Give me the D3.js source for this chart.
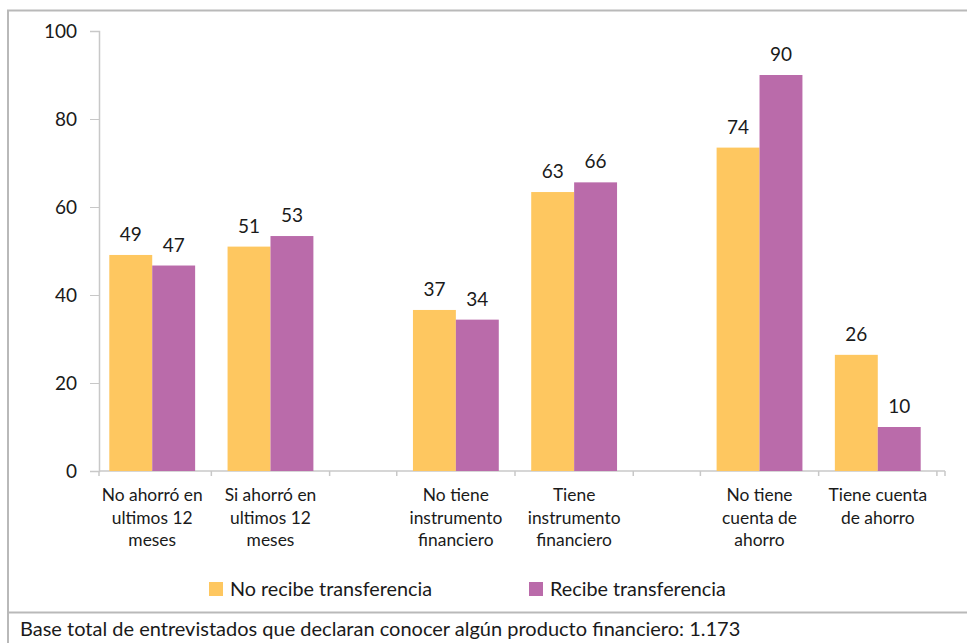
<!DOCTYPE html>
<meta charset='utf-8'>
<style>
body { margin: 0; background: #fff; }
text {
    font-family: Lato, 'Open Sans', sans-serif;
    fill: #1a1a1a;
}
.axis line, .axis path { stroke: #c8c8c8; }
</style>
<svg width='967' height='643'></svg>
<script src='https://cdnjs.cloudflare.com/ajax/libs/d3/7.8.5/d3.min.js'></script>
<script>

// categories, paired by theme
var groups = ['ahorro', 'instrumento', 'cuenta'];
var categories = [
    ['No ahorró en', 'ultimos 12', 'meses'],
    ['Si ahorró en', 'ultimos 12', 'meses'],
    ['No tiene', 'instrumento', 'financiero'],
    ['Tiene', 'instrumento', 'financiero'],
    ['No tiene', 'cuenta de', 'ahorro'],
    ['Tiene cuenta', 'de ahorro']
];
var categoryGroup = [0, 0, 1, 1, 2, 2];

var series = ['No recibe transferencia', 'Recibe transferencia'];
var noRecibe = [49.1, 51.0, 36.6, 63.4, 73.5, 26.4];
var recibe = [46.7, 53.4, 34.4, 65.6, 90.0, 10.0];
var yTicks = [0, 20, 40, 60, 80, 100];
var footnote = 'Base total de entrevistados que declaran conocer algún producto financiero: 1.173';

var colors = ['#fec760', '#ba6baa'];

var svg = d3.select('svg'),
    width = +svg.attr('width'),
    height = +svg.attr('height');

var plot = { left: 99, right: 945, top: 31, bottom: 471 };

// frame: chart cell + footnote cell
svg.append('path')
    .attr('d', 'M8,643V10.5H967M8,612.5H967')
    .attr('fill', 'none')
    .attr('stroke', '#b9b9b9')
    .attr('stroke-width', 2);

var y = d3.scaleLinear()
    .domain([0, 100])
    .range([plot.bottom, plot.top]);

// outer band: theme groups, inner band: categories, sub band: series
var x0 = d3.scaleBand()
    .domain(d3.range(groups.length))
    .range([plot.left, 931])
    .paddingInner(0.26)
    .paddingOuter(0);

var x1 = d3.scaleBand()
    .domain([0, 1])
    .range([0, x0.bandwidth()])
    .paddingInner(0.1)
    .paddingOuter(0);

var xs = d3.scaleBand()
    .domain(series)
    .range([0, x1.bandwidth()])
    .paddingOuter(0.24)
    .paddingInner(0);

function catX(i) {
    var g = categoryGroup[i];
    var pos = categoryGroup.slice(0, i).filter(function(v) { return v === g; }).length;
    return x0(g) + x1(pos);
}
function catCenter(i) { return catX(i) + x1.bandwidth() / 2; }

// y axis
var yAxis = svg.append('g')
    .attr('class', 'axis')
    .attr('transform', 'translate(' + plot.left + ',0)')
    .call(d3.axisLeft(y).tickValues(yTicks).tickSize(9).tickPadding(13).tickSizeOuter(9));
yAxis.selectAll('text').style('font-size', '19px').attr('fill', '#1a1a1a');
yAxis.select('.domain').attr('stroke-width', 1.5);

// x baseline and category ticks
var xg = svg.append('g').attr('class', 'axis');
xg.append('line')
    .attr('x1', plot.left).attr('x2', plot.right)
    .attr('y1', plot.bottom).attr('y2', plot.bottom)
    .attr('stroke-width', 1.5);

var tickXs = [];
categories.forEach(function(c, i) {
    var step = x1.step();
    [catCenter(i) - step / 2, catCenter(i) + step / 2].forEach(function(t) {
        t = Math.max(plot.left, Math.min(plot.right, t));
        if (!tickXs.some(function(v) { return Math.abs(v - t) < 2; })) tickXs.push(t);
    });
});
tickXs.push(plot.right);
xg.selectAll('.tick').data(tickXs).enter().append('line')
    .attr('x1', function(d) { return d; }).attr('x2', function(d) { return d; })
    .attr('y1', plot.bottom).attr('y2', plot.bottom + 5)
    .attr('stroke-width', 1.5);

// category labels
var labels = svg.append('g');
categories.forEach(function(lines, i) {
    var t = labels.append('text')
        .attr('x', catCenter(i))
        .attr('y', 501)
        .attr('text-anchor', 'middle')
        .style('font-size', '17.4px');
    lines.forEach(function(line, k) {
        t.append('tspan').attr('x', catCenter(i)).attr('dy', k === 0 ? 0 : 22.5).text(line);
    });
});

// bars
var seriesValues = [noRecibe, recibe];
series.forEach(function(s, si) {
    var vals = seriesValues[si];
    var g = svg.append('g');
    g.selectAll('rect').data(vals).enter().append('rect')
        .attr('x', function(d, i) { return catX(i) + xs(s); })
        .attr('width', xs.bandwidth())
        .attr('y', function(d) { return y(d); })
        .attr('height', function(d) { return y(0) - y(d); })
        .attr('fill', colors[si]);
    g.selectAll('text').data(vals).enter().append('text')
        .attr('x', function(d, i) { return catX(i) + xs(s) + xs.bandwidth() / 2; })
        .attr('y', function(d) { return y(d) - 14; })
        .attr('text-anchor', 'middle')
        .style('font-size', '19px')
        .text(function(d) { return Math.round(d); });
});

// legend
var legendX = [209, 529];
series.forEach(function(s, si) {
    var lg = svg.append('g').attr('transform', 'translate(' + legendX[si] + ',582)');
    lg.append('rect').attr('width', 14).attr('height', 14).attr('fill', colors[si]);
    lg.append('text').attr('x', 21).attr('y', 14).style('font-size', '19.8px').text(s);
});

// footnote
svg.append('text')
    .attr('x', 20).attr('y', 636)
    .style('font-size', '20px')
    .text(footnote);
</script>
